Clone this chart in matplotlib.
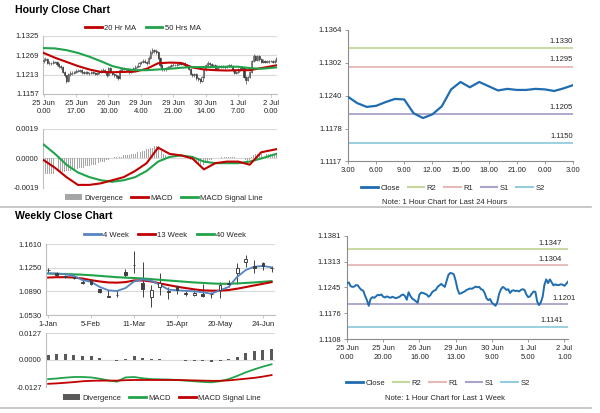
import numpy as np
import matplotlib
matplotlib.use('Agg')
import matplotlib.pyplot as plt
from matplotlib.lines import Line2D
from matplotlib.patches import Patch

plt.rcParams['font.family'] = ['Liberation Sans', 'DejaVu Sans']

# ---------------- hourly data (25 Jun 0.00 ... 2 Jul 3.00) ----------------
hour_open = [1.1252, 1.1256, 1.1258, 1.1248, 1.1246, 1.1247, 1.1251, 1.1250, 1.1243, 1.1238,
             1.1236, 1.1222, 1.1211, 1.1196, 1.1214, 1.1219, 1.1217, 1.1221, 1.1225, 1.1224,
             1.1226, 1.1220, 1.1218, 1.1221, 1.1219, 1.1217, 1.1220, 1.1218, 1.1216, 1.1218,
             1.1220, 1.1224, 1.1226, 1.1222, 1.1212, 1.1232, 1.1222, 1.1215, 1.1212, 1.1208,
             1.1204, 1.1226, 1.1231, 1.1230, 1.1228, 1.1226, 1.1220, 1.1224, 1.1232, 1.1236,
             1.1238, 1.1246, 1.1250, 1.1254, 1.1250, 1.1246, 1.1262, 1.1278, 1.1283, 1.1282,
             1.1279, 1.1262, 1.1240, 1.1228, 1.1229, 1.1232, 1.1234, 1.1238, 1.1240, 1.1242,
             1.1241, 1.1244, 1.1247, 1.1245, 1.1246, 1.1240, 1.1238, 1.1230, 1.1216, 1.1211,
             1.1214, 1.1204, 1.1200, 1.1196, 1.1206, 1.1228, 1.1240, 1.1246, 1.1243, 1.1238,
             1.1240, 1.1230, 1.1236, 1.1237, 1.1235, 1.1236, 1.1234, 1.1238, 1.1240, 1.1238,
             1.1226, 1.1219, 1.1221, 1.1228, 1.1234, 1.1233, 1.1207, 1.1198, 1.1205, 1.1220,
             1.1252, 1.1266, 1.1256, 1.1266, 1.1258, 1.1250, 1.1253, 1.1251, 1.1251, 1.1253,
             1.1252, 1.1249, 1.1254]
hour_close = [1.1256, 1.1258, 1.1248, 1.1246, 1.1247, 1.1251, 1.1250, 1.1243, 1.1238, 1.1236,
              1.1222, 1.1211, 1.1196, 1.1214, 1.1219, 1.1217, 1.1221, 1.1225, 1.1224, 1.1226,
              1.1220, 1.1218, 1.1221, 1.1219, 1.1217, 1.1220, 1.1218, 1.1216, 1.1218, 1.1220,
              1.1224, 1.1226, 1.1222, 1.1212, 1.1232, 1.1222, 1.1215, 1.1212, 1.1208, 1.1204,
              1.1226, 1.1231, 1.1230, 1.1228, 1.1226, 1.1220, 1.1224, 1.1232, 1.1236, 1.1238,
              1.1246, 1.1250, 1.1254, 1.1250, 1.1246, 1.1262, 1.1278, 1.1283, 1.1282, 1.1279,
              1.1262, 1.1240, 1.1228, 1.1229, 1.1232, 1.1234, 1.1238, 1.1240, 1.1242, 1.1241,
              1.1244, 1.1247, 1.1245, 1.1246, 1.1240, 1.1238, 1.1230, 1.1216, 1.1211, 1.1214,
              1.1204, 1.1200, 1.1196, 1.1206, 1.1228, 1.1240, 1.1246, 1.1243, 1.1238, 1.1240,
              1.1230, 1.1236, 1.1237, 1.1235, 1.1236, 1.1234, 1.1238, 1.1240, 1.1238, 1.1226,
              1.1219, 1.1221, 1.1228, 1.1234, 1.1233, 1.1207, 1.1198, 1.1205, 1.1220, 1.1252,
              1.1266, 1.1256, 1.1266, 1.1258, 1.1250, 1.1253, 1.1251, 1.1251, 1.1253, 1.1252,
              1.1249, 1.1254, 1.1260]
hour_high = [1.1260, 1.1263, 1.1261, 1.1252, 1.1251, 1.1255, 1.1254, 1.1253, 1.1246, 1.1241,
             1.1239, 1.1225, 1.1213, 1.1217, 1.1223, 1.1223, 1.1225, 1.1229, 1.1228, 1.1230,
             1.1229, 1.1223, 1.1225, 1.1224, 1.1222, 1.1223, 1.1223, 1.1221, 1.1221, 1.1224,
             1.1228, 1.1231, 1.1229, 1.1225, 1.1236, 1.1235, 1.1225, 1.1218, 1.1215, 1.1211,
             1.1230, 1.1235, 1.1234, 1.1233, 1.1231, 1.1229, 1.1228, 1.1236, 1.1240, 1.1242,
             1.1250, 1.1254, 1.1259, 1.1257, 1.1253, 1.1266, 1.1283, 1.1290, 1.1288, 1.1286,
             1.1282, 1.1265, 1.1243, 1.1233, 1.1236, 1.1238, 1.1242, 1.1244, 1.1246, 1.1245,
             1.1248, 1.1251, 1.1250, 1.1250, 1.1249, 1.1243, 1.1241, 1.1233, 1.1219, 1.1218,
             1.1217, 1.1207, 1.1203, 1.1210, 1.1232, 1.1244, 1.1254, 1.1250, 1.1246, 1.1244,
             1.1243, 1.1240, 1.1241, 1.1240, 1.1240, 1.1239, 1.1242, 1.1244, 1.1243, 1.1241,
             1.1229, 1.1225, 1.1232, 1.1238, 1.1238, 1.1236, 1.1210, 1.1209, 1.1224, 1.1256,
             1.1272, 1.1269, 1.1270, 1.1269, 1.1261, 1.1257, 1.1256, 1.1255, 1.1256, 1.1256,
             1.1255, 1.1257, 1.1263]
hour_low = [1.1248, 1.1252, 1.1244, 1.1242, 1.1242, 1.1244, 1.1246, 1.1239, 1.1233, 1.1230,
            1.1218, 1.1205, 1.1188, 1.1192, 1.1210, 1.1213, 1.1214, 1.1218, 1.1220, 1.1221,
            1.1216, 1.1214, 1.1215, 1.1216, 1.1213, 1.1214, 1.1215, 1.1212, 1.1213, 1.1215,
            1.1217, 1.1221, 1.1218, 1.1207, 1.1209, 1.1218, 1.1211, 1.1207, 1.1203, 1.1198,
            1.1201, 1.1222, 1.1226, 1.1224, 1.1222, 1.1216, 1.1217, 1.1221, 1.1229, 1.1233,
            1.1235, 1.1243, 1.1247, 1.1246, 1.1242, 1.1243, 1.1259, 1.1274, 1.1277, 1.1274,
            1.1257, 1.1235, 1.1223, 1.1224, 1.1225, 1.1229, 1.1231, 1.1235, 1.1237, 1.1237,
            1.1238, 1.1241, 1.1241, 1.1241, 1.1236, 1.1234, 1.1226, 1.1211, 1.1206, 1.1207,
            1.1199, 1.1195, 1.1189, 1.1192, 1.1203, 1.1225, 1.1236, 1.1239, 1.1234, 1.1234,
            1.1226, 1.1227, 1.1232, 1.1231, 1.1231, 1.1230, 1.1231, 1.1235, 1.1234, 1.1222,
            1.1215, 1.1215, 1.1218, 1.1225, 1.1229, 1.1202, 1.1186, 1.1194, 1.1202, 1.1217,
            1.1249, 1.1252, 1.1253, 1.1254, 1.1246, 1.1247, 1.1248, 1.1248, 1.1248, 1.1249,
            1.1246, 1.1246, 1.1251]

# moving averages / MACD read at these hour positions
hour_ma_idx = [0, 6, 12, 18, 24, 30, 36, 42, 48, 54, 60, 66, 72, 78, 84, 90, 96, 102, 108, 114, 122]
ma20 = [1.1276, 1.1262, 1.1250, 1.1238, 1.1228, 1.1221, 1.1220, 1.1221, 1.1222, 1.1230, 1.1246,
        1.1248, 1.1247, 1.1234, 1.1228, 1.1226, 1.1225, 1.1226, 1.1226, 1.1232, 1.1240]
ma50 = [1.1290, 1.1289, 1.1284, 1.1276, 1.1265, 1.1252, 1.1238, 1.1230, 1.1226, 1.1226, 1.1228,
        1.1230, 1.1233, 1.1235, 1.1235, 1.1235, 1.1236, 1.1236, 1.1232, 1.1230, 1.1234]
hour_macd = [-0.0001, -0.0006, -0.0012, -0.0017, -0.0017, -0.0016, -0.0014, -0.0012, -0.0008,
             -0.0003, 0.0007, 0.0003, 0.0002, 0.0000, -0.0007, -0.0003, -0.0002, -0.0002,
             -0.0004, 0.0004, 0.0006]
hour_signal = [0.0009, 0.0003, -0.0004, -0.0009, -0.0012, -0.0014, -0.0015, -0.0014, -0.0012,
               -0.0008, -0.0002, 0.0001, 0.0002, 0.0001, -0.0002, -0.0003, -0.0003, -0.0003,
               -0.0002, 0.0000, 0.0003]
# divergence bars, in units of 0.0001
hour_div_pips = [-10, -10, -10, -10, -10, -10, -10, -10, -9, -9,
                 -9, -9, -8, -8, -8, -7, -7, -7, -7, -6,
                 -6, -6, -5, -5, -5, -4, -4, -4, -3, -3,
                 -2, -2, -2, -1, -1, 0, 0, 1, 1, 1,
                 1, 1, 2, 2, 2, 2, 3, 3, 3, 4,
                 4, 4, 5, 5, 6, 6, 7, 7, 8, 8,
                 8, 7, 5, 3, 2, 1, 1, 0, 0, 0,
                 0, 0, 0, 0, 0, 0, 0, -1, -1, -2,
                 -2, -3, -4, -4, -4, -3, -2, -1, -1, 0,
                 0, 0, 0, 1, 1, 1, 1, 1, 1, 1,
                 1, 0, 0, 0, 0, -1, -1, -2, -1, 1,
                 2, 3, 3, 3, 3, 3, 3, 3, 3, 3,
                 3, 3, 3]
hour_tick_labels = ["25 Jun\n0.00", "25 Jun\n17.00", "26 Jun\n10.00", "29 Jun\n4.00",
                    "29 Jun\n21.00", "30 Jun\n14.00", "1 Jul\n7.00", "2 Jul\n0.00"]

day_tick_labels = ["3.00", "6.00", "9.00", "12.00", "15.00", "18.00", "21.00", "0.00", "3.00"]
day_levels = [1.1330, 1.1295, 1.1205, 1.1150]
week1h_tick_labels = ["25 Jun\n0.00", "25 Jun\n20.00", "26 Jun\n16.00", "29 Jun\n13.00",
                      "30 Jun\n9.00", "1 Jul\n5.00", "2 Jul\n1.00"]
week1h_levels = [1.1347, 1.1304, 1.1201, 1.1141]
level_names = ["R2", "R1", "S1", "S2"]

# ---------------- weekly data ----------------
week_open = [1.1214, 1.1163, 1.1121, 1.1111, 1.1029, 1.1055, 1.0921, 1.0818, 1.0830, 1.1188,
             1.1295, 1.1019, 1.0803, 1.0957, 1.0888, 1.0967, 1.0870, 1.0839, 1.0854, 1.0846,
             1.0916, 1.1006, 1.1173, 1.1343, 1.1276, 1.1317, 1.1242]
week_high = [1.1240, 1.1183, 1.1137, 1.1121, 1.1086, 1.1070, 1.0932, 1.0906, 1.0906, 1.1224,
             1.1497, 1.1343, 1.0983, 1.1163, 1.0960, 1.0993, 1.0896, 1.0916, 1.1008, 1.0880,
             1.1034, 1.1060, 1.1317, 1.1445, 1.1368, 1.1343, 1.1276]
week_low = [1.1163, 1.1111, 1.1096, 1.1080, 1.1003, 1.0993, 1.0870, 1.0803, 1.0803, 1.1101,
            1.1163, 1.0803, 1.0649, 1.0829, 1.0770, 1.0854, 1.0818, 1.0813, 1.0803, 1.0793,
            1.0793, 1.0957, 1.1008, 1.1265, 1.1163, 1.1214, 1.1189]
week_close = [1.1216, 1.1132, 1.1106, 1.1091, 1.1014, 1.1003, 1.0880, 1.0810, 1.0838, 1.1137,
              1.1288, 1.0931, 1.0906, 1.1019, 1.0882, 1.0916, 1.0844, 1.0870, 1.0813, 1.0842,
              1.0983, 1.1010, 1.1250, 1.1379, 1.1240, 1.1276, 1.1238]
wma4 = [1.1165, 1.1160, 1.1150, 1.1125, 1.1060, 1.1034, 1.0957, 1.0906, 1.0895, 1.0940,
        1.1040, 1.1070, 1.1050, 1.0990, 1.0916, 1.0906, 1.0898, 1.0890, 1.0875, 1.0854,
        1.0906, 1.0957, 1.1110, 1.1214, 1.1265, 1.1276, 1.1255]
wma13 = [1.1100, 1.1105, 1.1105, 1.1100, 1.1085, 1.1060, 1.1040, 1.1025, 1.1022, 1.1030,
         1.1055, 1.1055, 1.1040, 1.1010, 1.0985, 1.0960, 1.0940, 1.0920, 1.0905, 1.0900,
         1.0900, 1.0910, 1.0930, 1.0955, 1.0980, 1.1005, 1.1030]
wma40 = [1.1160, 1.1157, 1.1153, 1.1148, 1.1143, 1.1135, 1.1125, 1.1115, 1.1105, 1.1098,
         1.1092, 1.1085, 1.1075, 1.1065, 1.1055, 1.1045, 1.1035, 1.1025, 1.1018, 1.1010,
         1.1005, 1.1005, 1.1010, 1.1018, 1.1025, 1.1035, 1.1045]
week_div = [0.0024, 0.0027, 0.0028, 0.0025, 0.0019, 0.0017, 0.0009, 0.0002, -0.0003, 0.0003,
            0.0017, 0.0011, 0.0006, 0.0003, 0.0002, -0.0002, -0.0003, -0.0005, -0.0006, -0.0011,
            -0.0003, 0.0003, 0.0014, 0.0031, 0.0041, 0.0046, 0.0050]
week_macd = [-0.0090, -0.0087, -0.0083, -0.0080, -0.0080, -0.0082, -0.0088, -0.0096, -0.0102,
             -0.0082, -0.0080, -0.0086, -0.0090, -0.0091, -0.0092, -0.0094, -0.0097, -0.0100,
             -0.0103, -0.0105, -0.0100, -0.0090, -0.0075, -0.0058, -0.0044, -0.0031, -0.0020]
week_signal = [-0.0112, -0.0110, -0.0107, -0.0104, -0.0100, -0.0098, -0.0097, -0.0097, -0.0097,
               -0.0095, -0.0094, -0.0094, -0.0094, -0.0094, -0.0094, -0.0094, -0.0095, -0.0096,
               -0.0097, -0.0098, -0.0098, -0.0096, -0.0092, -0.0088, -0.0084, -0.0078, -0.0071]
week_tick_labels = ["1-Jan", "5-Feb", "11-Mar", "15-Apr", "20-May", "24-Jun"]

RED = '#C00000'
GREEN = '#21A34B'
BLUE = '#5585C2'
CLOSE_BLUE = '#1F6DB0'
LEVEL_COLORS = ['#C4D79B', '#E6B9B8', '#ABA2C9', '#93CDDD']
GRID = '#D9D9D9'
SPINE = '#BFBFBF'
TXT = '#262626'
FS = 5.5

fig = plt.figure(figsize=(6.0, 4.13), dpi=100)


def px_axes(x0, y0, x1, y1):
    return fig.add_axes([x0 / 600, 1 - y1 / 413, (x1 - x0) / 600, (y1 - y0) / 413])


def left_style(ax, ticks, labels, bottom_spine=True):
    ax.set_ylim(ticks[0], ticks[-1])
    ax.set_yticks(ticks)
    ax.set_yticklabels(labels)
    for s in ['top', 'right']:
        ax.spines[s].set_visible(False)
    ax.spines['left'].set_color(SPINE)
    ax.spines['bottom'].set_color(SPINE)
    ax.spines['bottom'].set_visible(bottom_spine)
    ax.grid(axis='y', color=GRID, lw=0.8)
    ax.set_axisbelow(True)
    ax.tick_params(axis='y', length=0, pad=3, labelsize=FS, colors=TXT)
    ax.tick_params(axis='x', length=2, width=0.6, color=SPINE, pad=2, labelsize=FS, colors=TXT)


def candles(ax, x, o, h, l, c, width, edge, lw):
    x = np.asarray(x, dtype=float)
    o = np.asarray(o); h = np.asarray(h); l = np.asarray(l); c = np.asarray(c)
    ax.vlines(x, l, h, color=edge, lw=lw, zorder=2)
    up = c >= o
    ax.bar(x[up], (c - o)[up], width, bottom=o[up], facecolor='white', edgecolor=edge,
           lw=lw, zorder=3)
    ax.bar(x[~up], (o - c)[~up], width, bottom=c[~up], facecolor=edge, edgecolor=edge,
           lw=lw, zorder=3)


def leg(handles, labels, x, y, hl=2.2, cs=1.2):
    fig.legend(handles, labels, loc='center', bbox_to_anchor=(x, y), ncol=len(labels),
               frameon=False, fontsize=FS, handlelength=hl, handletextpad=0.3,
               columnspacing=cs, borderaxespad=0, borderpad=0, labelcolor=TXT)


hx = np.arange(len(hour_close))

# ---------------- Hourly Close Chart ----------------
fig.text(15 / 600, 1 - 10 / 413, "Hourly Close Chart", fontsize=7.6, fontweight='bold',
         va='center', ha='left', color='black')

ax1 = px_axes(43, 36, 277, 94)
candles(ax1, hx, hour_open, hour_high, hour_low, hour_close, 0.6, '#3A3A3A', 0.45)
ax1.plot(hour_ma_idx, ma20, color=RED, lw=1.5, zorder=4)
ax1.plot(hour_ma_idx, ma50, color=GREEN, lw=1.5, zorder=4)
left_style(ax1, [1.1157, 1.1213, 1.1269, 1.1325], ["1.1157", "1.1213", "1.1269", "1.1325"])
ax1.set_xlim(-0.3, 122.3)
ax1.set_xticks(range(0, 120, 17))
ax1.set_xticklabels(hour_tick_labels, linespacing=1.35)
leg([Line2D([], [], color=RED, lw=2), Line2D([], [], color=GREEN, lw=2)],
    ["20 Hr MA", "50 Hrs MA"], 143 / 600, 1 - 28 / 413)

ax2 = px_axes(43, 129, 277, 188)
ax2.bar(hx, np.array(hour_div_pips) * 1e-4, 0.45, color='#A6A6A6', zorder=2)
ax2.plot(hour_ma_idx, hour_macd, color=RED, lw=1.5, zorder=4)
ax2.plot(hour_ma_idx, hour_signal, color=GREEN, lw=1.5, zorder=3)
left_style(ax2, [-0.0019, 0.0, 0.0019], ["-0.0019", "0.0000", "0.0019"], bottom_spine=False)
ax2.set_xlim(-0.3, 122.3)
ax2.set_xticks([])
leg([Patch(facecolor='#A6A6A6'), Line2D([], [], color=RED, lw=2),
     Line2D([], [], color=GREEN, lw=2)],
    ["Divergence", "MACD", "MACD Signal Line"], 164 / 600, 1 - 198 / 413, cs=1.1)

# ---------------- Weekly Close Chart ----------------
fig.text(15 / 600, 1 - 216 / 413, "Weekly Close Chart", fontsize=7.6, fontweight='bold',
         va='center', ha='left', color='black')
wx = np.arange(len(week_close))

ax3 = px_axes(46, 244, 275, 315)
candles(ax3, wx, week_open, week_high, week_low, week_close, 0.32, '#404040', 0.7)
ax3.plot(wx, wma40, color=GREEN, lw=1.5, zorder=2.5)
ax3.plot(wx, wma13, color=RED, lw=1.5, zorder=2.5)
ax3.plot(wx, wma4, color=BLUE, lw=1.3, zorder=2.6)
left_style(ax3, [1.0530, 1.0890, 1.1250, 1.1610], ["1.0530", "1.0890", "1.1250", "1.1610"])
ax3.set_xlim(-0.25, 26.4)
ax3.set_xticks(range(0, 26, 5))
ax3.set_xticklabels(week_tick_labels)
leg([Line2D([], [], color=BLUE, lw=2), Line2D([], [], color=RED, lw=2),
     Line2D([], [], color=GREEN, lw=2)],
    ["4 Week", "13 Week", "40 Week"], 165 / 600, 1 - 235 / 413)

ax4 = px_axes(46, 333, 275, 387)
ax4.bar(wx, week_div, 0.35, color='#595959', zorder=2)
ax4.plot(wx, week_macd, color=GREEN, lw=1.3, zorder=3)
ax4.plot(wx, week_signal, color=RED, lw=1.3, zorder=3)
left_style(ax4, [-0.0127, 0.0, 0.0127], ["-0.0127", "0.0000", "0.0127"], bottom_spine=False)
ax4.set_xlim(-0.25, 26.4)
ax4.set_xticks([])
leg([Patch(facecolor='#595959'), Line2D([], [], color=GREEN, lw=2),
     Line2D([], [], color=RED, lw=2)],
    ["Divergence", "MACD", "MACD Signal Line"], 162 / 600, 1 - 398 / 413, cs=1.1)


# ---------------- right charts ----------------
def right_style(ax, ticks, labels):
    ax.set_ylim(ticks[0], ticks[-1])
    ax.set_yticks(ticks)
    ax.set_yticklabels(labels)
    for s in ['top', 'right']:
        ax.spines[s].set_visible(False)
    ax.spines['left'].set_color('#8C8C8C')
    ax.spines['bottom'].set_color('#8C8C8C')
    ax.tick_params(length=2.5, width=0.6, color='#8C8C8C', labelsize=FS, colors=TXT, pad=2)


ax5 = px_axes(348, 30, 573, 161)
day_close = hour_close[98:]
for lvl, col in zip(day_levels, LEVEL_COLORS):
    ax5.axhline(lvl, color=col, lw=1.3, zorder=1)
    ax5.annotate("%.4f" % lvl, (24, lvl), xytext=(0, 2.5), textcoords='offset points',
                 ha='right', va='bottom', fontsize=FS, color=TXT, annotation_clip=False)
ax5.plot(range(len(day_close)), day_close, color=CLOSE_BLUE, lw=1.6, zorder=3)
right_style(ax5, [1.1117, 1.1178, 1.1240, 1.1302, 1.1364],
            ["1.1117", "1.1178", "1.1240", "1.1302", "1.1364"])
ax5.set_xlim(0, 24)
ax5.set_xticks(range(0, 25, 3))
ax5.set_xticklabels(day_tick_labels)
lev_handles = [Line2D([], [], color=CLOSE_BLUE, lw=2)] + \
              [Line2D([], [], color=c, lw=1.5) for c in LEVEL_COLORS]
leg(lev_handles, ["Close"] + level_names, 453 / 600, 1 - 188 / 413, hl=2.2, cs=1.0)
fig.text(445 / 600, 1 - 202 / 413, "Note: 1 Hour Chart for Last 24 Hours", fontsize=FS,
         ha='center', va='center', color=TXT)

ax6 = px_axes(347, 236, 568, 339)
week1h_label_x = [118.5, 118.5, 126.5, 119.5]
for lvl, col, lx in zip(week1h_levels, LEVEL_COLORS, week1h_label_x):
    ax6.axhline(lvl, color=col, lw=1.3, zorder=1)
    ax6.annotate("%.4f" % lvl, (lx, lvl), xytext=(0, 1.5), textcoords='offset points',
                 ha='right', va='bottom', fontsize=FS, color=TXT, annotation_clip=False)
ax6.plot(hx, hour_close, color=CLOSE_BLUE, lw=1.4, zorder=3)
right_style(ax6, [1.1108, 1.1176, 1.1245, 1.1313, 1.1381],
            ["1.1108", "1.1176", "1.1245", "1.1313", "1.1381"])
ax6.set_xlim(0, 122)
ax6.set_xticks(range(0, 121, 20))
ax6.set_xticklabels(week1h_tick_labels, linespacing=1.35)
leg(lev_handles, ["Close"] + level_names, 438 / 600, 1 - 383 / 413, hl=2.2, cs=1.0)
fig.text(445 / 600, 1 - 399 / 413, "Note: 1 Hour Chart for Last 1 Week", fontsize=FS,
         ha='center', va='center', color=TXT)

# separators
for yy in [207, 408]:
    fig.add_artist(Line2D([0, 0.985], [1 - yy / 413] * 2, color='#BFBFBF', lw=1.2))

fig.savefig("out.png", dpi=100)
